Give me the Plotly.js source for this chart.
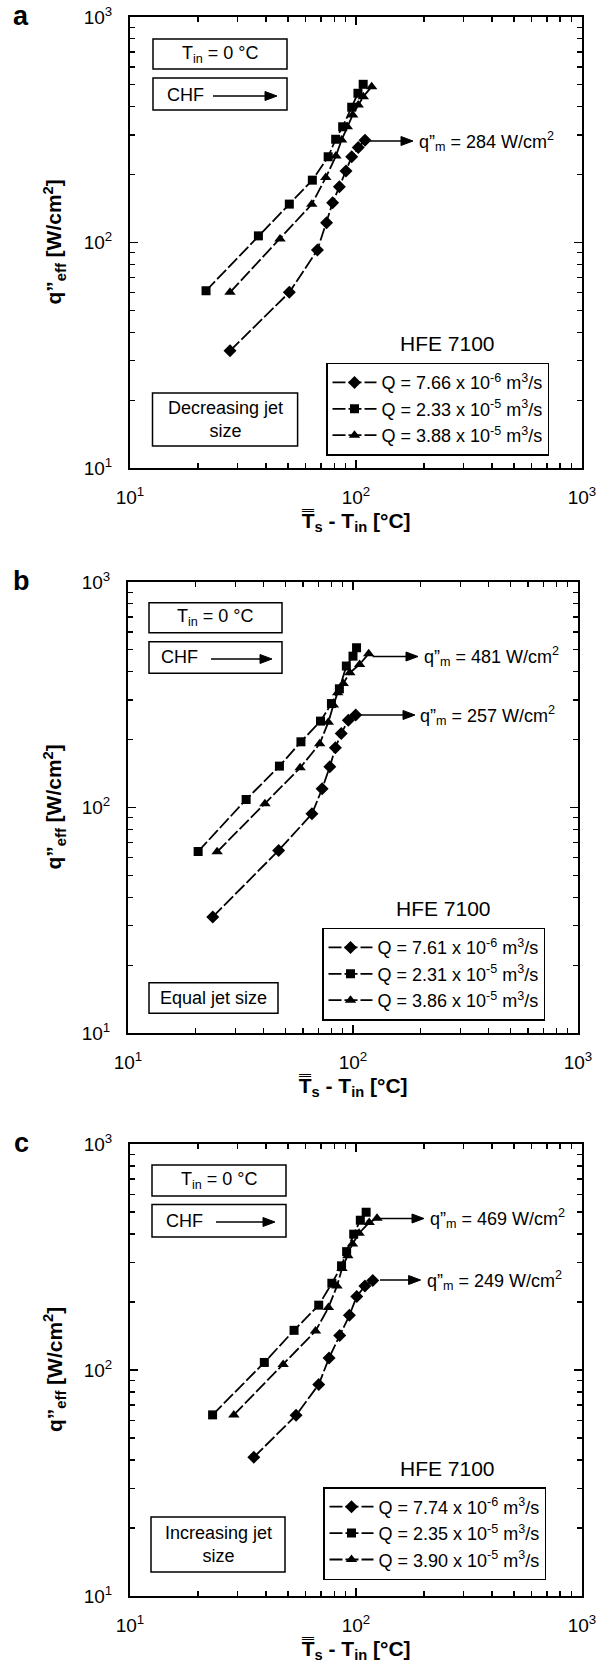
<!DOCTYPE html>
<html>
<head>
<meta charset="utf-8">
<script src="https://cdn.plot.ly/plotly-3.0.1.min.js"></script>
<style>html,body{margin:0;padding:0;background:#fff;}#chart{width:612px;height:1665px;}</style>
</head>
<body>
<div id="chart"></div>
<script>
// ---------- data ----------
// Panel a: decreasing jet size
const a_diamond_x = [27.7, 50.7, 67.5, 74.1, 78.8, 84.4, 90.3, 95.7, 102.3, 109.6];
const a_diamond_y = [33.1, 60.1, 92.6, 122.5, 150, 176.8, 207.5, 240, 264, 284];
const a_square_x  = [21.7, 37.0, 50.7, 64.1, 75.3, 81.3, 87.3, 95.7, 102, 107.6];
const a_square_y  = [61.1, 107, 148, 189, 240, 287, 326, 398, 459, 503];
const a_tri_x     = [27.7, 46.1, 63.7, 73.5, 81.5, 86.4, 91.5, 96.7, 102.3, 107.7, 117.3];
const a_tri_y     = [60.1, 103.6, 147.7, 194, 242, 285, 326, 368, 407, 443, 491];
// Panel b: equal jet size
const b_diamond_x = [23.8, 46.7, 65.7, 72.9, 78.9, 83.5, 88.7, 95.3, 102.8];
const b_diamond_y = [32.7, 64.5, 93.7, 121, 151.6, 184, 213, 244, 257];
const b_square_x  = [20.5, 33.5, 47.1, 58.7, 71.7, 80.2, 87, 93.4, 100, 103.7];
const b_square_y  = [63.8, 108.5, 152.6, 195.6, 241.6, 289, 336, 424, 469, 511];
const b_tri_x     = [24.9, 40.6, 58.2, 71.1, 77.7, 81.8, 85.5, 90.5, 96.8, 107, 117.4];
const b_tri_y     = [63.6, 103.8, 150, 191.6, 239, 284.6, 322.8, 355, 396, 431, 481];
// Panel c: increasing jet size
const c_diamond_x = [35.3, 54.3, 68.4, 76, 84.7, 93.5, 100.8, 109.5, 118.6];
const c_diamond_y = [41.1, 63, 86.3, 113, 142, 174.6, 211.7, 235.5, 249];
const c_square_x  = [23.2, 39.3, 53.2, 68.4, 78.2, 86.3, 90.9, 97.7, 104.5, 110.9];
const c_square_y  = [63.3, 108, 149.8, 193.6, 242, 289, 334, 399, 460, 499];
const c_tri_x     = [28.8, 47.6, 66.2, 75.5, 82.4, 86.7, 92, 96.5, 103.2, 114.4, 123.9];
const c_tri_y     = [63.3, 105.7, 148.8, 188.8, 235.5, 281, 320, 361, 403, 449, 469];

const a_names = ["Q = 7.66 x 10<sup>-6</sup> m<sup>3</sup>/s", "Q = 2.33 x 10<sup>-5</sup> m<sup>3</sup>/s", "Q = 3.88 x 10<sup>-5</sup> m<sup>3</sup>/s"];
const b_names = ["Q = 7.61 x 10<sup>-6</sup> m<sup>3</sup>/s", "Q = 2.31 x 10<sup>-5</sup> m<sup>3</sup>/s", "Q = 3.86 x 10<sup>-5</sup> m<sup>3</sup>/s"];
const c_names = ["Q = 7.74 x 10<sup>-6</sup> m<sup>3</sup>/s", "Q = 2.35 x 10<sup>-5</sup> m<sup>3</sup>/s", "Q = 3.90 x 10<sup>-5</sup> m<sup>3</sup>/s"];

const qm_a = [284];
const qm_b = [481, 257];
const qm_c = [469, 249];

const majorTicks = [10, 100, 1000];
const majorText = ["10<sup>1</sup>", "10<sup>2</sup>", "10<sup>3</sup>"];
const minorTicks = [20,30,40,50,60,70,80,90,200,300,400,500,600,700,800,900];

// ---------- layout helpers ----------
const W = 612, H = 1665;
const FONT = "Liberation Sans, Arial, Helvetica, sans-serif";
const X = px => px / W;
const Y = py => 1 - py / H;

const symbols = ["diamond", "square", "triangle-up"];
const msizes = [10, 9, 10];

function series(xs, ys, names, ax, leg) {
  const sets = [[xs[0], ys[0]], [xs[1], ys[1]], [xs[2], ys[2]]];
  return sets.map((s, i) => ({
    type: "scatter", mode: "lines+markers",
    x: s[0], y: s[1], name: names[i],
    xaxis: "x" + ax, yaxis: "y" + ax, legend: leg,
    line: {color: "black", width: 1.8, dash: "13px,3px"},
    marker: {symbol: symbols[i], size: msizes[i], color: "black"}
  }));
}

const traces = [].concat(
  series([a_diamond_x, a_square_x, a_tri_x], [a_diamond_y, a_square_y, a_tri_y], a_names, "", "legend"),
  series([b_diamond_x, b_square_x, b_tri_x], [b_diamond_y, b_square_y, b_tri_y], b_names, "2", "legend2"),
  series([c_diamond_x, c_square_x, c_tri_x], [c_diamond_y, c_square_y, c_tri_y], c_names, "3", "legend3")
);

function xax(l, r, anchor) {
  return {
    domain: [X(l), X(r)], anchor: anchor, type: "log", range: [1, 3],
    showline: true, linewidth: 2, linecolor: "black", mirror: "ticks",
    ticks: "inside", ticklen: 8, tickwidth: 1.5, tickcolor: "black",
    tickmode: "array", tickvals: majorTicks, ticktext: majorText,
    tickfont: {size: 19, family: FONT, color: "black"}, ticklabelstandoff: 11,
    minor: {tickmode: "array", tickvals: minorTicks, ticks: "inside", ticklen: 5, tickwidth: 1.2, tickcolor: "black", showgrid: false},
    showgrid: false, zeroline: false, fixedrange: true
  };
}
function yax(t, b, anchor) {
  return {
    domain: [Y(b), Y(t)], anchor: anchor, type: "log", range: [1, 3],
    showline: true, linewidth: 2, linecolor: "black", mirror: "ticks",
    ticks: "inside", ticklen: 8, tickwidth: 1.5, tickcolor: "black",
    tickmode: "array", tickvals: majorTicks, ticktext: majorText,
    tickfont: {size: 19, family: FONT, color: "black"}, ticklabelstandoff: 12,
    minor: {tickmode: "array", tickvals: minorTicks, ticks: "inside", ticklen: 5, tickwidth: 1.2, tickcolor: "black", showgrid: false},
    showgrid: false, zeroline: false, fixedrange: true
  };
}

function legendAt(px, py) {
  return {
    x: X(px), y: Y(py), xanchor: "left", yanchor: "top", xref: "paper", yref: "paper",
    bordercolor: "black", borderwidth: 1.5, bgcolor: "white",
    font: {size: 18, family: FONT, color: "black"}, itemwidth: 44, tracegroupgap: 0
  };
}

const annotations = [];
const shapes = [];
function txt(text, px, py, size, opts) {
  annotations.push(Object.assign({
    xref: "paper", yref: "paper", x: X(px), y: Y(py), text: text, showarrow: false,
    xanchor: "center", yanchor: "middle", font: {size: size, family: FONT, color: "black"}
  }, opts || {}));
}
function arrow(tailx, headx, py) {
  const hl = 12, hw = 4.5;
  shapes.push({type: "line", xref: "paper", yref: "paper", x0: X(tailx), x1: X(headx - hl + 1), y0: Y(py), y1: Y(py),
    line: {color: "black", width: 1.5}});
  shapes.push({type: "path", xref: "paper", yref: "paper",
    path: "M" + X(headx) + "," + Y(py) + " L" + X(headx - hl) + "," + Y(py - hw) + " L" + X(headx - hl) + "," + Y(py + hw) + " Z",
    fillcolor: "black", line: {color: "black", width: 1}});
}
function box(x0, y0, x1, y1) {
  shapes.push({type: "rect", xref: "paper", yref: "paper", x0: X(x0), x1: X(x1), y0: Y(y1), y1: Y(y0),
    line: {color: "black", width: 1.5}, fillcolor: "rgba(0,0,0,0)"});
}

const panels = [
  {letter: "a", l: 130, r: 582, t: 17, b: 468, box1: [153,39,287,69], box2: [153,78,287,110],
   chfText: [165, 95], chfArrow: [213, 277, 96], jet: [152.5,393,297.6,446], jetText: "Decreasing jet<br>size",
   hfe: [448, 344], qm: [[370, 413, 141, 417, qm_a[0]]]},
  {letter: "b", l: 128, r: 578, t: 582, b: 1033, box1: [149,602.7,282,632.7], box2: [149,641.7,282,673.3],
   chfText: [159, 657], chfArrow: [211, 272, 659], jet: [149,982.7,278,1013.3], jetText: "Equal jet size",
   hfe: [443, 908], qm: [[372.6, 418, 656.5, 422, qm_b[0]], [357, 415, 715, 418, qm_b[1]]]},
  {letter: "c", l: 130, r: 582, t: 1144, b: 1596, box1: [152,1165,286,1196], box2: [152,1204.5,286,1237],
   chfText: [164, 1221], chfArrow: [216, 275, 1222], jet: [151,1517,285,1572], jetText: "Increasing jet<br>size",
   hfe: [448, 1468], qm: [[376, 424, 1218.5, 428, qm_c[0]], [380, 420.6, 1280, 424.5, qm_c[1]]]}
];

const layout = {
  width: W, height: H, margin: {l: 0, r: 0, t: 0, b: 0},
  paper_bgcolor: "white", plot_bgcolor: "white", showlegend: true,
  font: {family: FONT, color: "black"},
  xaxis: xax(130, 582, "y"), yaxis: yax(17, 468, "x"),
  xaxis2: xax(128, 578, "y2"), yaxis2: yax(582, 1033, "x2"),
  xaxis3: xax(130, 582, "y3"), yaxis3: yax(1144, 1596, "x3"),
  legend: legendAt(326, 362.7),
  legend2: legendAt(322, 927.7),
  legend3: legendAt(323, 1487),
  annotations: annotations, shapes: shapes
};

panels.forEach(p => {
  txt("<b>" + p.letter + "</b>", 21, p.t - 1, 27);
  box.apply(null, p.box1);
  txt("T<sub>in</sub> = 0 °C", (p.box1[0] + p.box1[2]) / 2, (p.box1[1] + p.box1[3]) / 2, 18);
  box.apply(null, p.box2);
  txt("CHF", p.chfText[0], p.chfText[1], 18, {xanchor: "left"});
  arrow(p.chfArrow[0], p.chfArrow[1], p.chfArrow[2]);
  box.apply(null, p.jet);
  txt(p.jetText, (p.jet[0] + p.jet[2]) / 2, (p.jet[1] + p.jet[3]) / 2, 18);
  txt("HFE 7100", p.hfe[0], p.hfe[1], 21);
  p.qm.forEach(q => {
    arrow(q[0], q[1], q[2]);
    txt("q”<sub>m</sub> = " + q[4] + " W/cm<sup>2</sup>", q[3], q[2], 18, {xanchor: "left"});
  });
  txt("<b>q”<sub>eff</sub> [W/cm<sup>2</sup>]</b>", 54, (p.t + p.b) / 2, 21, {textangle: -90});
  txt("<b>T\u033F<sub>s</sub> - T<sub>in</sub> [°C]</b>", (p.l + p.r) / 2, p.b + 54, 21);
});

Plotly.newPlot("chart", traces, layout, {displayModeBar: false, staticPlot: true});
</script>
</body>
</html>
